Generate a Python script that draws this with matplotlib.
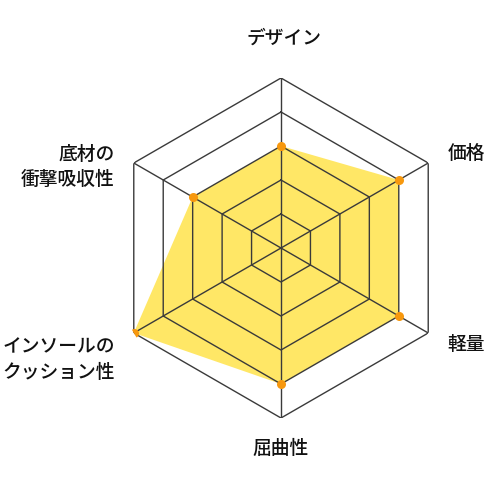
import numpy as np
import matplotlib
matplotlib.use("Agg")
import matplotlib.pyplot as plt

plt.rcParams['font.family'] = ['Noto Sans CJK JP', 'DejaVu Sans']

# axes clockwise from the top
labels = ["デザイン", "価格", "軽量", "屈曲性", "インソールの\nクッション性", "底材の\n衝撃吸収性"]
scores = [3, 4, 4, 4, 5, 3]
levels = [1, 2, 3, 4, 5]

# label placement relative to each outer vertex (pixels) and alignment
label_offsets = [(3, 41), (19, 11), (19, -11), (0, -29), (-19, -26), (-19, -3)]
label_ha = ["center", "left", "left", "center", "right", "right"]

W = H = 485
fig = plt.figure(figsize=(W / 100, H / 100), dpi=100)
fig.patch.set_facecolor("white")

# polar axes: centre at (281, 249) px, radius 170 px
cx, cy, R = 281, 249, 170
ax = fig.add_axes([(cx - R) / W, (H - cy - R) / H, 2 * R / W, 2 * R / H], projection="polar")
ax.set_theta_zero_location("N")
ax.set_theta_direction(-1)
ax.set_ylim(0, levels[-1])
ax.axis("off")

n = len(labels)
theta = np.linspace(0, 2 * np.pi, n, endpoint=False)
theta_closed = np.append(theta, theta[0])

# data polygon
vals = np.append(scores, scores[0])
ax.fill(theta_closed, vals, color="#FFE766", zorder=1, linewidth=0)

# hexagonal grid
for lv in levels:
    ax.plot(theta_closed, [lv] * (n + 1), color="#3a3a3a", lw=1.0, zorder=2)
for t in theta:
    ax.plot([t, t], [0, levels[-1]], color="#3a3a3a", lw=1.0, zorder=2)

# points
ax.plot(theta, scores, "o", color="#F7980E", markersize=6.5, zorder=3,
        markeredgewidth=0)

for t, lab, off, ha in zip(theta, labels, label_offsets, label_ha):
    ax.annotate(lab, xy=(t, levels[-1]), xytext=off, textcoords="offset pixels",
                ha=ha, va="center", fontsize=13.5, fontweight="medium",
                color="#111111", linespacing=1.45, annotation_clip=False)

fig.savefig("out.png", dpi=100)
